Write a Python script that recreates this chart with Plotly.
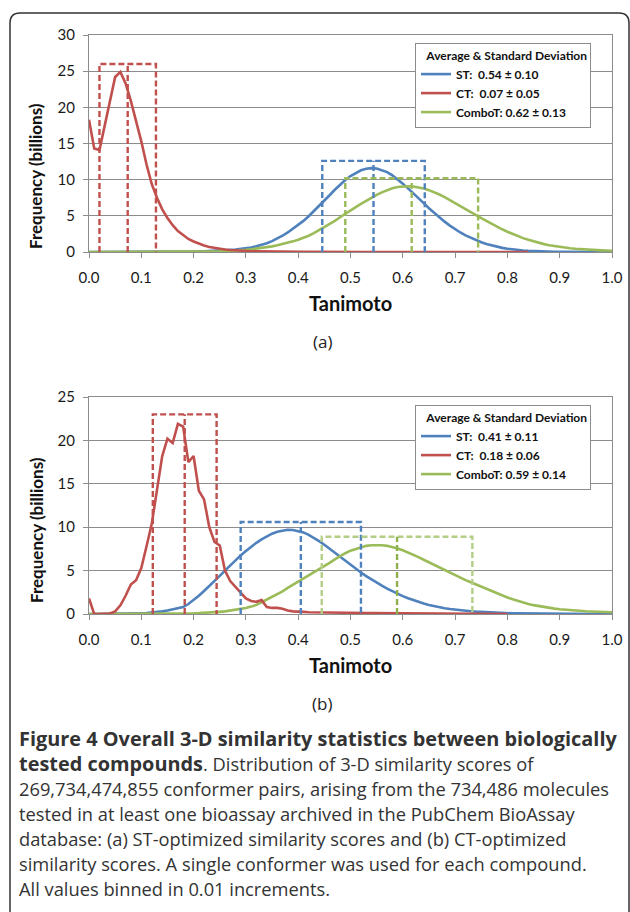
import plotly.graph_objects as go

# ---------------- data ----------------
TANIMOTO = [round(i * 0.01, 2) for i in range(101)]
X_TICKS = [0.0, 0.1, 0.2, 0.3, 0.4, 0.5, 0.6, 0.7, 0.8, 0.9, 1.0]
X_TICK_LABELS = ["0.0", "0.1", "0.2", "0.3", "0.4", "0.5", "0.6", "0.7", "0.8", "0.9", "1.0"]

SERIES = ["ST", "CT", "ComboT"]

# panel (a): ST-optimized
ST_A = [0, 0, 0, 0, 0, 0, 0, 0, 0, 0, 0,
        0.01, 0.01, 0.02, 0.02, 0.03, 0.03, 0.04, 0.05, 0.06, 0.07,
        0.09, 0.11, 0.13, 0.16, 0.2, 0.24, 0.29, 0.35, 0.42, 0.5,
        0.62, 0.78, 0.98, 1.22, 1.5, 1.85, 2.25, 2.7, 3.2, 3.7,
        4.3, 4.95, 5.65, 6.4, 7.1, 7.85, 8.6, 9.3, 9.95, 10.5,
        10.95, 11.3, 11.5, 11.6, 11.55, 11.35, 11.05, 10.6, 10.05, 9.45,
        8.8, 8.15, 7.45, 6.75, 6.05, 5.4, 4.8, 4.2, 3.65, 3.15,
        2.7, 2.3, 1.95, 1.62, 1.35, 1.1, 0.9, 0.72, 0.57, 0.45,
        0.35, 0.27, 0.21, 0.16, 0.12, 0.09, 0.07, 0.05, 0.04, 0.03,
        0.02, 0.02, 0.01, 0.01, 0.01, 0, 0, 0, 0, 0]
CT_A = [18.3, 14.3, 14.1, 17.5, 21.2, 24.2, 24.9, 23.3, 20.9, 18.2, 15.3,
        12.1, 9.4, 7.5, 5.9, 4.7, 3.7, 2.9, 2.3, 1.8, 1.45,
        1.15, 0.9, 0.7, 0.55, 0.43, 0.35, 0.28, 0.22, 0.18, 0.14,
        0.11, 0.09, 0.07, 0.06, 0.05, 0.04, 0.03, 0.03, 0.02, 0.02,
        0.02, 0.02, 0.01, 0.01, 0.01, 0.01, 0.01, 0.01, 0.01, 0.01,
        0.01, 0.01, 0.01, 0.01, 0.01, 0.01, 0.01, 0.01, 0.01, 0.01,
        0.01, 0.01, 0.01, 0.01, 0.01, 0.01, 0.01, 0.01, 0.01, 0.01,
        0.01, 0.01, 0.01, 0.01, 0.01, 0.01, 0.01, 0.01, 0.01, 0.01,
        0.01, 0.01, 0.01, 0.01, None, None, None, None, None, None,
        None, None, None, None, None, None, None, None, None, None]
COMBO_A = [0, 0, 0, 0, 0, 0, 0, 0, 0, 0, 0,
           0, 0, 0, 0, 0, 0.01, 0.01, 0.02, 0.02, 0.03,
           0.04, 0.05, 0.06, 0.08, 0.1, 0.12, 0.15, 0.19, 0.24, 0.3,
           0.37, 0.45, 0.55, 0.66, 0.78, 0.92, 1.08, 1.26, 1.47, 1.7,
           1.96, 2.25, 2.6, 3.0, 3.4, 3.85, 4.3, 4.8, 5.3, 5.75,
           6.2, 6.65, 7.1, 7.5, 7.9, 8.25, 8.55, 8.8, 8.98, 9.08,
           9.1, 9.05, 8.95, 8.78, 8.55, 8.28, 7.95, 7.6, 7.2, 6.8,
           6.38, 5.95, 5.52, 5.1, 4.68, 4.27, 3.88, 3.5, 3.14, 2.8,
           2.48, 2.19, 1.92, 1.68, 1.46, 1.26, 1.09, 0.94, 0.81, 0.7,
           0.6, 0.52, 0.45, 0.39, 0.34, 0.3, 0.26, 0.23, 0.2, 0.18]

# panel (b): CT-optimized
ST_B = [0, 0, 0, 0, 0, 0, 0, 0, 0, 0.05, 0.08,
        0.1, 0.15, 0.22, 0.3, 0.4, 0.52, 0.66, 0.8, 1.15, 1.6,
        2.1, 2.65, 3.2, 3.8, 4.4, 5.0, 5.6, 6.2, 6.75, 7.25,
        7.75, 8.2, 8.6, 8.95, 9.25, 9.48, 9.62, 9.7, 9.68, 9.58,
        9.4, 9.12, 8.8, 8.4, 7.98, 7.52, 7.05, 6.57, 6.1, 5.65,
        5.2, 4.78, 4.37, 3.98, 3.61, 3.26, 2.93, 2.62, 2.33, 2.06,
        1.81, 1.58, 1.38, 1.2, 1.04, 0.9, 0.78, 0.67, 0.58, 0.5,
        0.43, 0.37, 0.32, 0.27, 0.23, 0.2, 0.17, 0.14, 0.12, 0.1,
        0.08, 0.07, 0.06, 0.05, 0.04, 0.03, 0.03, 0.02, 0.02, 0.01,
        0.01, 0.01, 0.01, 0, 0, 0, 0, 0, 0, 0]
CT_B = [1.8, 0.0, 0.0, 0.05, 0.05, 0.3, 1.0, 2.1, 3.4, 3.9, 5.3,
        7.8, 10.4, 14.3, 18.2, 20.2, 19.7, 21.9, 21.6, 17.5, 18.2,
        14.2, 13.2, 10.0, 8.3, 7.9, 5.0, 3.8, 3.1, 2.5, 1.8,
        1.5, 1.4, 1.6, 0.8, 0.7, 0.7, 0.6, 0.4, 0.3, 0.3,
        0.25, 0.2, 0.2, 0.2, 0.2, 0.18, 0.17, 0.16, 0.15, 0.14,
        0.13, 0.12, 0.12, 0.11, 0.1, 0.1, 0.09, 0.09, 0.08, 0.08,
        0.07, 0.07, 0.06, 0.06, 0.05, 0.05, 0.04, 0.04, 0.03, 0.03,
        0.03, 0.02, 0.02, 0.02, 0.01, 0.01, 0.01, 0.01, 0.0, 0.0,
        None, None, None, None, None, None, None, None, None, None,
        None, None, None, None, None, None, None, None, None, None]
COMBO_B = [0, 0, 0, 0, 0, 0, 0, 0, 0, 0, 0,
           0.01, 0.01, 0.02, 0.02, 0.03, 0.04, 0.05, 0.06, 0.07, 0.08,
           0.1, 0.12, 0.15, 0.2, 0.25, 0.3, 0.38, 0.46, 0.56, 0.7,
           0.85, 1.05, 1.35, 1.65, 1.95, 2.25, 2.6, 3.0, 3.35, 3.75,
           4.1, 4.45, 4.8, 5.15, 5.5, 5.9, 6.3, 6.7, 7.0, 7.3,
           7.5, 7.7, 7.85, 7.92, 7.95, 7.92, 7.85, 7.72, 7.55, 7.35,
           7.1, 6.85, 6.55, 6.25, 5.95, 5.65, 5.35, 5.05, 4.75, 4.45,
           4.15, 3.9, 3.65, 3.4, 3.1, 2.85, 2.6, 2.35, 2.1, 1.9,
           1.7, 1.5, 1.32, 1.16, 1.02, 0.9, 0.8, 0.7, 0.62, 0.55,
           0.49, 0.44, 0.4, 0.36, 0.32, 0.29, 0.26, 0.24, 0.22, 0.2]

# mean, standard deviation (drawn as dashed boxes) and box heights
MEAN_A = [0.544, 0.074, 0.617]
SD_A = [0.098, 0.054, 0.127]
BOX_TOP_A = [12.6, 26.0, 10.2]
LABEL_A = ["ST:\u00a0\u00a00.54 \u00b1 0.10", "CT:\u00a0\u00a00.07 \u00b1 0.05", "ComboT: 0.62 \u00b1 0.13"]

MEAN_B = [0.405, 0.183, 0.589]
SD_B = [0.115, 0.061, 0.144]
BOX_TOP_B = [10.6, 23.0, 8.9]
LABEL_B = ["ST:\u00a0\u00a00.41 \u00b1 0.11", "CT:\u00a0\u00a00.18 \u00b1 0.06", "ComboT: 0.59 \u00b1 0.14"]

Y_MAX = [30, 25]

CAPTION = [
    "<b>Figure 4 Overall 3-D similarity statistics between biologically</b>",
    "<b>tested compounds</b>. Distribution of 3-D similarity scores of",
    "269,734,474,855 conformer pairs, arising from the 734,486 molecules",
    "tested in at least one bioassay archived in the PubChem BioAssay",
    "database: (a) ST-optimized similarity scores and (b) CT-optimized",
    "similarity scores. A single conformer was used for each compound.",
    "All values binned in 0.01 increments.",
]

# ---------------- styling ----------------
W, H = 630, 912
COLORS = {"ST": "#4F81BD", "CT": "#C0504D", "ComboT": "#9BBB59"}
BOX_COLORS_A = {"ST": ("#4F81BD", "#4F81BD"), "CT": ("#C0504D", "#C0504D"), "ComboT": ("#9BBB59", "#9BBB59")}
BOX_COLORS_B = {"ST": ("#4F81BD", "#4F81BD"), "CT": ("#C0504D", "#C0504D"), "ComboT": ("#B3CE86", "#8FB04C")}
GRID = "#8C8C8C"
FONT = "Lato"
DASH = "6px,3px"


def px_x(p):
    return p / W


def px_y(p):
    return 1 - p / H


fig = go.Figure()

panels = [
    dict(series={"ST": ST_A, "CT": CT_A, "ComboT": COMBO_A}, mean=MEAN_A, sd=SD_A, top=BOX_TOP_A,
         labels=LABEL_A, xaxis="x", yaxis="y", legend="legend", boxc=BOX_COLORS_A),
    dict(series={"ST": ST_B, "CT": CT_B, "ComboT": COMBO_B}, mean=MEAN_B, sd=SD_B, top=BOX_TOP_B,
         labels=LABEL_B, xaxis="x2", yaxis="y2", legend="legend2", boxc=BOX_COLORS_B),
]

draw_order = ["ST", "ComboT", "CT"]
for p in panels:
    for name in draw_order:
        i = SERIES.index(name)
        fig.add_trace(go.Scatter(
            x=TANIMOTO, y=p["series"][name], mode="lines", name=p["labels"][i],
            line=dict(color=COLORS[name], width=2.6), connectgaps=False,
            xaxis=p["xaxis"], yaxis=p["yaxis"], legend=p["legend"], legendrank=i + 1,
            hoverinfo="skip"))
    for name in SERIES:
        i = SERIES.index(name)
        m, s, t = p["mean"][i], p["sd"][i], p["top"][i]
        outer, mid = p["boxc"][name]
        fig.add_trace(go.Scatter(
            x=[m - s, m - s, m + s, m + s], y=[0, t, t, 0], mode="lines",
            line=dict(color=outer, width=2.4, dash=DASH), showlegend=False,
            xaxis=p["xaxis"], yaxis=p["yaxis"], hoverinfo="skip"))
        fig.add_trace(go.Scatter(
            x=[m, m], y=[0, t], mode="lines",
            line=dict(color=mid, width=2.4, dash=DASH), showlegend=False,
            xaxis=p["xaxis"], yaxis=p["yaxis"], hoverinfo="skip"))

axis_common = dict(showline=True, linecolor=GRID, linewidth=1, mirror=True,
                   ticks="outside", tickcolor=GRID, ticklen=5, tickwidth=1, automargin=False,
                   tickfont=dict(family=FONT, size=15, color="#1a1a1a"), zeroline=False)

X0, X1 = 89, 612
PANEL_Y = [(35, 252), (397, 614)]
YTITLE_CENTER = [162, 516]

for k, (ytop, ybot) in enumerate(PANEL_Y):
    sfx = "" if k == 0 else str(k + 1)
    fig.layout["xaxis" + sfx] = dict(
        axis_common, domain=[px_x(X0), px_x(X1)], range=[0, 1], tickvals=X_TICKS,
        ticktext=X_TICK_LABELS, showgrid=False, anchor="y" + sfx, ticklabelstandoff=7)
    fig.layout["yaxis" + sfx] = dict(
        axis_common, domain=[px_y(ybot), px_y(ytop)], range=[0, Y_MAX[k]], dtick=5,
        showgrid=True, gridcolor=GRID, gridwidth=1, anchor="x" + sfx, ticklabelstandoff=5)

legend_common = dict(
    xanchor="left", yanchor="top", bgcolor="white", bordercolor="#8C8C8C", borderwidth=1,
    font=dict(family=FONT, size=12, color="#111", weight="bold"),
    title=dict(text="\u00a0\u00a0\u00a0Average & Standard Deviation",
               font=dict(family=FONT, size=12, color="#111", weight="bold")),
    tracegroupgap=0, itemwidth=30, itemclick=False, entrywidth=148, entrywidthmode="pixels")
fig.update_layout(
    legend=dict(legend_common, x=px_x(415), y=px_y(43)),
    legend2=dict(legend_common, x=px_x(415), y=px_y(405)),
)

ann = []
for k, (ytop, ybot) in enumerate(PANEL_Y):
    ann.append(dict(text="<b>Frequency (billions)</b>", x=px_x(36), y=px_y(YTITLE_CENTER[k]),
                    xref="paper", yref="paper", xanchor="center", yanchor="middle",
                    showarrow=False, textangle=-90, yshift=-14,
                    font=dict(family=FONT, size=17, color="#111")))
    ann.append(dict(text="<b>Tanimoto</b>", x=px_x(350), y=px_y(ybot + 51),
                    xref="paper", yref="paper", xanchor="center", yanchor="middle", showarrow=False,
                    font=dict(family=FONT, size=20, color="#111")))
    ann.append(dict(text="(a)" if k == 0 else "(b)", x=px_x(322), y=px_y(ybot + 89),
                    xref="paper", yref="paper", xanchor="center", yanchor="middle", showarrow=False,
                    font=dict(family="Open Sans", size=17, color="#222")))

for j, line in enumerate(CAPTION):
    line = line.replace("<b>", "<b><span style='font-size:19.9px'>").replace("</b>", "</span></b>")
    ann.append(dict(text=line, x=px_x(17), y=px_y(738 + 25 * j), xref="paper", yref="paper",
                    xanchor="left", yanchor="middle", showarrow=False,
                    font=dict(family="Open Sans", size=18.3, color="#333")))

fig.update_layout(annotations=ann)

# rounded frame around the figure
x0, x1 = px_x(10), px_x(629)
yt, yb = px_y(13), px_y(925)
dx, dy = px_x(10), 10 / H
frame = (f"M {x0},{yb} L {x0},{yt - dy} Q {x0},{yt} {x0 + dx},{yt} "
         f"L {x1 - dx},{yt} Q {x1},{yt} {x1},{yt - dy} L {x1},{yb}")
fig.add_shape(type="path", path=frame, xref="paper", yref="paper",
              line=dict(color="#333", width=1.5))

fig.update_layout(width=W, height=H, autosize=False, margin=dict(l=0, r=0, t=0, b=0),
                  paper_bgcolor="white", plot_bgcolor="white", showlegend=True,
                  hovermode=False)

fig.write_html("out.html")
